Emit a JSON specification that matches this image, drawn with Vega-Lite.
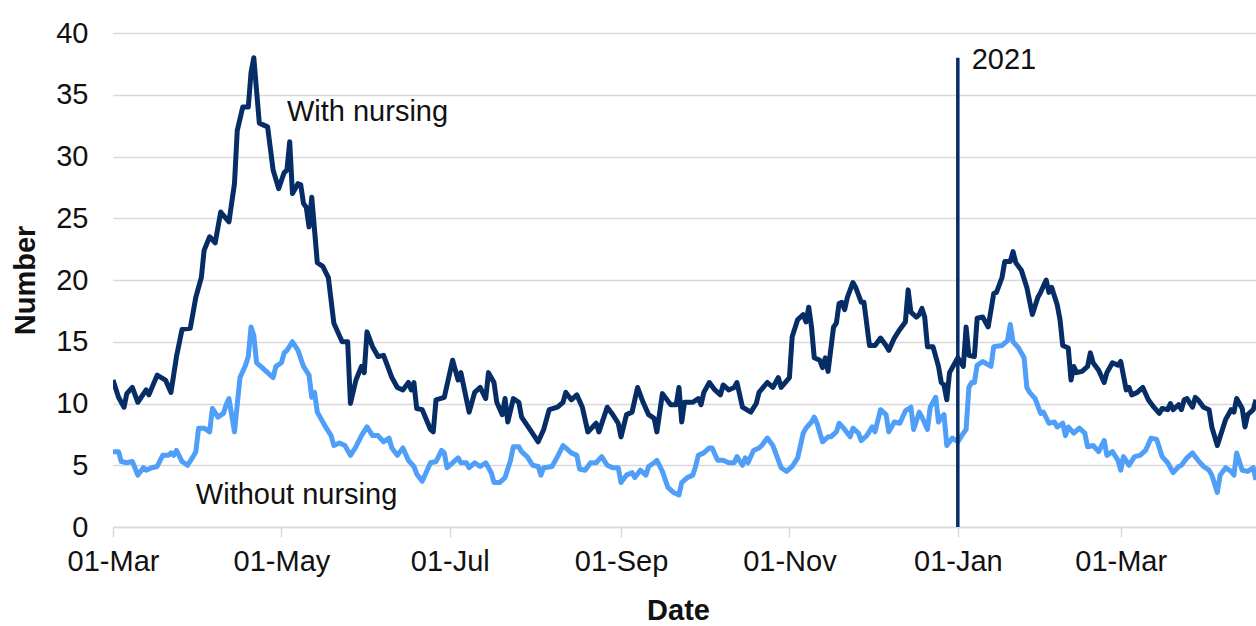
{
  "$schema": "https://vega.github.io/schema/vega-lite/v6.json",
  "width": 1143,
  "height": 494,
  "autosize": "none",
  "padding": {"left": 113, "top": 33, "right": 0, "bottom": 99},
  "background": "white",
  "config": {"view": {"stroke": null}, "font": "Liberation Sans"},
  "datasets": {
    "withNursing": [
      {"d":"2020-03-01","v":11.9},{"d":"2020-03-03","v":10.5},{"d":"2020-03-05","v":9.7},{"d":"2020-03-06","v":10.8},{"d":"2020-03-08","v":11.3},{"d":"2020-03-10","v":10.1},{"d":"2020-03-13","v":11.1},{"d":"2020-03-14","v":10.7},{"d":"2020-03-17","v":12.3},{"d":"2020-03-20","v":11.9},{"d":"2020-03-22","v":10.9},{"d":"2020-03-24","v":13.8},{"d":"2020-03-26","v":16.0},{"d":"2020-03-29","v":16.1},{"d":"2020-03-31","v":18.6},
      {"d":"2020-04-02","v":20.2},{"d":"2020-04-03","v":22.4},{"d":"2020-04-05","v":23.5},{"d":"2020-04-07","v":23.0},{"d":"2020-04-09","v":25.5},{"d":"2020-04-12","v":24.7},{"d":"2020-04-14","v":27.8},{"d":"2020-04-15","v":32.1},{"d":"2020-04-17","v":34.0},{"d":"2020-04-19","v":34.0},{"d":"2020-04-20","v":36.8},{"d":"2020-04-21","v":38.0},{"d":"2020-04-23","v":32.7},{"d":"2020-04-26","v":32.4},{"d":"2020-04-28","v":28.9},{"d":"2020-04-30","v":27.4},
      {"d":"2020-05-02","v":28.7},{"d":"2020-05-03","v":28.9},{"d":"2020-05-04","v":31.2},{"d":"2020-05-05","v":27.0},{"d":"2020-05-07","v":27.8},{"d":"2020-05-08","v":27.7},{"d":"2020-05-09","v":26.2},{"d":"2020-05-10","v":25.9},{"d":"2020-05-11","v":24.3},{"d":"2020-05-12","v":26.7},{"d":"2020-05-14","v":21.4},{"d":"2020-05-16","v":21.1},{"d":"2020-05-18","v":20.2},{"d":"2020-05-20","v":16.5},{"d":"2020-05-23","v":15.0},{"d":"2020-05-25","v":15.0},{"d":"2020-05-26","v":10.0},{"d":"2020-05-28","v":11.9},{"d":"2020-05-30","v":13.0},{"d":"2020-05-31","v":12.5},
      {"d":"2020-06-01","v":15.8},{"d":"2020-06-03","v":14.6},{"d":"2020-06-05","v":13.8},{"d":"2020-06-07","v":13.9},{"d":"2020-06-09","v":12.7},{"d":"2020-06-10","v":12.1},{"d":"2020-06-12","v":11.3},{"d":"2020-06-14","v":11.1},{"d":"2020-06-16","v":11.7},{"d":"2020-06-17","v":11.1},{"d":"2020-06-18","v":11.7},{"d":"2020-06-19","v":9.6},{"d":"2020-06-21","v":9.5},{"d":"2020-06-24","v":7.9},{"d":"2020-06-25","v":7.7},{"d":"2020-06-26","v":10.3},{"d":"2020-06-29","v":10.5},
      {"d":"2020-07-02","v":13.5},{"d":"2020-07-04","v":11.9},{"d":"2020-07-05","v":12.5},{"d":"2020-07-08","v":9.3},{"d":"2020-07-10","v":10.9},{"d":"2020-07-12","v":11.3},{"d":"2020-07-14","v":10.4},{"d":"2020-07-15","v":12.5},{"d":"2020-07-17","v":11.7},{"d":"2020-07-18","v":10.1},{"d":"2020-07-20","v":9.1},{"d":"2020-07-21","v":10.4},{"d":"2020-07-22","v":8.5},{"d":"2020-07-24","v":10.4},{"d":"2020-07-26","v":10.1},{"d":"2020-07-27","v":8.9},{"d":"2020-07-30","v":7.9},
      {"d":"2020-08-02","v":6.9},{"d":"2020-08-04","v":7.9},{"d":"2020-08-06","v":9.5},{"d":"2020-08-09","v":9.7},{"d":"2020-08-11","v":10.1},{"d":"2020-08-12","v":10.9},{"d":"2020-08-14","v":10.3},{"d":"2020-08-16","v":10.7},{"d":"2020-08-18","v":9.7},{"d":"2020-08-20","v":7.7},{"d":"2020-08-23","v":8.4},{"d":"2020-08-24","v":7.7},{"d":"2020-08-27","v":9.7},{"d":"2020-08-29","v":9.1},{"d":"2020-08-31","v":8.4},
      {"d":"2020-09-01","v":7.3},{"d":"2020-09-03","v":9.1},{"d":"2020-09-05","v":9.3},{"d":"2020-09-07","v":11.3},{"d":"2020-09-09","v":10.1},{"d":"2020-09-11","v":9.1},{"d":"2020-09-13","v":8.8},{"d":"2020-09-14","v":7.7},{"d":"2020-09-16","v":10.8},{"d":"2020-09-19","v":9.9},{"d":"2020-09-21","v":9.9},{"d":"2020-09-22","v":11.3},{"d":"2020-09-23","v":8.5},{"d":"2020-09-24","v":10.1},{"d":"2020-09-27","v":10.1},{"d":"2020-09-29","v":10.4},{"d":"2020-09-30","v":9.9},
      {"d":"2020-10-01","v":10.9},{"d":"2020-10-03","v":11.7},{"d":"2020-10-05","v":11.1},{"d":"2020-10-07","v":10.7},{"d":"2020-10-08","v":11.5},{"d":"2020-10-10","v":11.1},{"d":"2020-10-12","v":11.3},{"d":"2020-10-13","v":11.7},{"d":"2020-10-15","v":9.7},{"d":"2020-10-18","v":9.3},{"d":"2020-10-20","v":10.0},{"d":"2020-10-21","v":10.9},{"d":"2020-10-24","v":11.7},{"d":"2020-10-26","v":11.3},{"d":"2020-10-28","v":12.1},{"d":"2020-10-29","v":11.3},
      {"d":"2020-11-01","v":12.1},{"d":"2020-11-02","v":15.4},{"d":"2020-11-04","v":16.8},{"d":"2020-11-06","v":17.2},{"d":"2020-11-07","v":16.6},{"d":"2020-11-08","v":17.8},{"d":"2020-11-09","v":16.2},{"d":"2020-11-10","v":13.7},{"d":"2020-11-12","v":13.5},{"d":"2020-11-13","v":12.9},{"d":"2020-11-14","v":13.7},{"d":"2020-11-15","v":12.6},{"d":"2020-11-17","v":16.2},{"d":"2020-11-18","v":16.5},{"d":"2020-11-19","v":18.1},{"d":"2020-11-20","v":18.2},{"d":"2020-11-21","v":17.6},{"d":"2020-11-22","v":18.6},{"d":"2020-11-24","v":19.8},{"d":"2020-11-25","v":19.4},{"d":"2020-11-27","v":18.2},{"d":"2020-11-28","v":18.2},{"d":"2020-11-30","v":14.7},
      {"d":"2020-12-02","v":14.7},{"d":"2020-12-04","v":15.3},{"d":"2020-12-06","v":14.7},{"d":"2020-12-07","v":14.3},{"d":"2020-12-09","v":15.3},{"d":"2020-12-11","v":16.0},{"d":"2020-12-13","v":16.6},{"d":"2020-12-14","v":19.2},{"d":"2020-12-15","v":17.4},{"d":"2020-12-17","v":17.0},{"d":"2020-12-18","v":17.2},{"d":"2020-12-19","v":17.7},{"d":"2020-12-20","v":17.0},{"d":"2020-12-21","v":14.6},{"d":"2020-12-23","v":14.6},{"d":"2020-12-25","v":13.0},{"d":"2020-12-26","v":11.7},{"d":"2020-12-27","v":11.5},{"d":"2020-12-28","v":10.3},{"d":"2020-12-29","v":12.5},{"d":"2020-12-31","v":13.3},
      {"d":"2021-01-01","v":13.7},{"d":"2021-01-03","v":13.0},{"d":"2021-01-04","v":16.2},{"d":"2021-01-05","v":13.9},{"d":"2021-01-07","v":13.8},{"d":"2021-01-08","v":16.9},{"d":"2021-01-10","v":17.0},{"d":"2021-01-12","v":16.2},{"d":"2021-01-14","v":18.9},{"d":"2021-01-15","v":19.0},{"d":"2021-01-17","v":20.2},{"d":"2021-01-18","v":21.5},{"d":"2021-01-20","v":21.5},{"d":"2021-01-21","v":22.3},{"d":"2021-01-22","v":21.4},{"d":"2021-01-24","v":20.8},{"d":"2021-01-26","v":19.4},{"d":"2021-01-28","v":17.2},{"d":"2021-01-30","v":18.6},{"d":"2021-01-31","v":19.0},
      {"d":"2021-02-02","v":20.0},{"d":"2021-02-03","v":19.0},{"d":"2021-02-04","v":19.4},{"d":"2021-02-06","v":18.0},{"d":"2021-02-07","v":16.8},{"d":"2021-02-08","v":14.7},{"d":"2021-02-10","v":14.5},{"d":"2021-02-11","v":11.9},{"d":"2021-02-12","v":13.0},{"d":"2021-02-13","v":12.5},{"d":"2021-02-15","v":12.6},{"d":"2021-02-17","v":13.0},{"d":"2021-02-18","v":14.1},{"d":"2021-02-19","v":13.3},{"d":"2021-02-21","v":12.7},{"d":"2021-02-23","v":11.7},{"d":"2021-02-24","v":12.5},{"d":"2021-02-26","v":13.3},{"d":"2021-02-28","v":13.1},
      {"d":"2021-03-01","v":13.4},{"d":"2021-03-03","v":11.1},{"d":"2021-03-04","v":11.3},{"d":"2021-03-05","v":10.7},{"d":"2021-03-07","v":10.9},{"d":"2021-03-09","v":11.3},{"d":"2021-03-11","v":10.3},{"d":"2021-03-13","v":9.7},{"d":"2021-03-15","v":9.2},{"d":"2021-03-16","v":9.6},{"d":"2021-03-18","v":9.5},{"d":"2021-03-19","v":10.0},{"d":"2021-03-20","v":9.5},{"d":"2021-03-22","v":9.9},{"d":"2021-03-23","v":9.5},{"d":"2021-03-24","v":10.3},{"d":"2021-03-25","v":10.4},{"d":"2021-03-27","v":9.7},{"d":"2021-03-28","v":10.5},{"d":"2021-03-29","v":10.3},{"d":"2021-03-31","v":9.7},
      {"d":"2021-04-02","v":9.5},{"d":"2021-04-03","v":8.1},{"d":"2021-04-05","v":6.6},{"d":"2021-04-06","v":7.3},{"d":"2021-04-08","v":8.7},{"d":"2021-04-10","v":9.5},{"d":"2021-04-11","v":9.3},{"d":"2021-04-12","v":10.4},{"d":"2021-04-14","v":9.6},{"d":"2021-04-15","v":8.1},{"d":"2021-04-16","v":9.1},{"d":"2021-04-18","v":9.5},{"d":"2021-04-19","v":10.3}
    ],
    "withoutNursing": [
      {"d":"2020-03-01","v":6.1},{"d":"2020-03-03","v":6.1},{"d":"2020-03-04","v":5.3},{"d":"2020-03-06","v":5.2},{"d":"2020-03-08","v":5.3},{"d":"2020-03-10","v":4.2},{"d":"2020-03-12","v":4.8},{"d":"2020-03-13","v":4.6},{"d":"2020-03-15","v":4.8},{"d":"2020-03-17","v":4.9},{"d":"2020-03-19","v":5.8},{"d":"2020-03-21","v":5.8},{"d":"2020-03-22","v":6.0},{"d":"2020-03-23","v":5.8},{"d":"2020-03-24","v":6.2},{"d":"2020-03-26","v":5.3},{"d":"2020-03-28","v":5.0},{"d":"2020-03-30","v":5.7},{"d":"2020-03-31","v":6.1},
      {"d":"2020-04-01","v":8.0},{"d":"2020-04-03","v":8.0},{"d":"2020-04-05","v":7.7},{"d":"2020-04-06","v":9.6},{"d":"2020-04-08","v":8.9},{"d":"2020-04-10","v":9.2},{"d":"2020-04-11","v":9.9},{"d":"2020-04-12","v":10.4},{"d":"2020-04-14","v":7.7},{"d":"2020-04-15","v":9.9},{"d":"2020-04-16","v":12.1},{"d":"2020-04-18","v":13.1},{"d":"2020-04-19","v":13.8},{"d":"2020-04-20","v":16.2},{"d":"2020-04-21","v":15.5},{"d":"2020-04-22","v":13.3},{"d":"2020-04-24","v":12.9},{"d":"2020-04-28","v":12.1},{"d":"2020-04-29","v":13.0},
      {"d":"2020-05-01","v":13.3},{"d":"2020-05-02","v":14.1},{"d":"2020-05-03","v":14.3},{"d":"2020-05-05","v":15.0},{"d":"2020-05-07","v":14.3},{"d":"2020-05-09","v":13.0},{"d":"2020-05-11","v":12.3},{"d":"2020-05-12","v":10.5},{"d":"2020-05-13","v":10.9},{"d":"2020-05-14","v":9.3},{"d":"2020-05-17","v":8.1},{"d":"2020-05-19","v":7.4},{"d":"2020-05-20","v":6.6},{"d":"2020-05-22","v":6.8},{"d":"2020-05-24","v":6.6},{"d":"2020-05-26","v":5.8},{"d":"2020-05-28","v":6.5},{"d":"2020-05-30","v":7.4},
      {"d":"2020-06-01","v":8.1},{"d":"2020-06-03","v":7.4},{"d":"2020-06-05","v":7.4},{"d":"2020-06-07","v":6.9},{"d":"2020-06-09","v":7.2},{"d":"2020-06-10","v":6.4},{"d":"2020-06-12","v":5.8},{"d":"2020-06-14","v":6.4},{"d":"2020-06-16","v":5.4},{"d":"2020-06-18","v":4.9},{"d":"2020-06-19","v":4.3},{"d":"2020-06-21","v":3.7},{"d":"2020-06-24","v":5.2},{"d":"2020-06-26","v":5.3},{"d":"2020-06-28","v":6.2},{"d":"2020-06-29","v":6.0},{"d":"2020-06-30","v":4.8},
      {"d":"2020-07-02","v":5.2},{"d":"2020-07-04","v":5.6},{"d":"2020-07-05","v":5.2},{"d":"2020-07-07","v":5.2},{"d":"2020-07-08","v":4.8},{"d":"2020-07-10","v":5.2},{"d":"2020-07-12","v":4.9},{"d":"2020-07-14","v":5.2},{"d":"2020-07-16","v":4.4},{"d":"2020-07-17","v":3.6},{"d":"2020-07-19","v":3.6},{"d":"2020-07-21","v":4.0},{"d":"2020-07-23","v":5.4},{"d":"2020-07-24","v":6.5},{"d":"2020-07-26","v":6.5},{"d":"2020-07-27","v":6.1},{"d":"2020-07-29","v":5.7},{"d":"2020-07-31","v":5.0},
      {"d":"2020-08-02","v":4.9},{"d":"2020-08-03","v":4.2},{"d":"2020-08-04","v":4.8},{"d":"2020-08-07","v":4.9},{"d":"2020-08-09","v":5.7},{"d":"2020-08-11","v":6.6},{"d":"2020-08-12","v":6.4},{"d":"2020-08-14","v":6.0},{"d":"2020-08-16","v":5.8},{"d":"2020-08-17","v":4.7},{"d":"2020-08-19","v":4.6},{"d":"2020-08-21","v":5.2},{"d":"2020-08-23","v":5.2},{"d":"2020-08-25","v":5.7},{"d":"2020-08-27","v":5.0},{"d":"2020-08-29","v":4.8},{"d":"2020-08-31","v":4.8},
      {"d":"2020-09-01","v":3.6},{"d":"2020-09-03","v":4.2},{"d":"2020-09-05","v":4.4},{"d":"2020-09-06","v":4.0},{"d":"2020-09-08","v":4.6},{"d":"2020-09-10","v":4.2},{"d":"2020-09-11","v":4.9},{"d":"2020-09-13","v":5.2},{"d":"2020-09-14","v":5.4},{"d":"2020-09-16","v":4.5},{"d":"2020-09-18","v":3.2},{"d":"2020-09-20","v":2.8},{"d":"2020-09-22","v":2.6},{"d":"2020-09-23","v":3.6},{"d":"2020-09-25","v":4.0},{"d":"2020-09-27","v":4.2},{"d":"2020-09-28","v":4.9},{"d":"2020-09-29","v":5.8},
      {"d":"2020-10-01","v":6.0},{"d":"2020-10-03","v":6.4},{"d":"2020-10-04","v":6.4},{"d":"2020-10-06","v":5.4},{"d":"2020-10-08","v":5.4},{"d":"2020-10-10","v":5.2},{"d":"2020-10-12","v":5.2},{"d":"2020-10-13","v":5.7},{"d":"2020-10-15","v":5.0},{"d":"2020-10-16","v":5.6},{"d":"2020-10-17","v":5.2},{"d":"2020-10-19","v":6.2},{"d":"2020-10-21","v":6.4},{"d":"2020-10-22","v":6.6},{"d":"2020-10-24","v":7.2},{"d":"2020-10-26","v":6.6},{"d":"2020-10-28","v":5.4},{"d":"2020-10-29","v":4.8},{"d":"2020-10-31","v":4.5},
      {"d":"2020-11-02","v":4.9},{"d":"2020-11-04","v":5.6},{"d":"2020-11-06","v":7.6},{"d":"2020-11-07","v":8.0},{"d":"2020-11-09","v":8.5},{"d":"2020-11-10","v":8.9},{"d":"2020-11-11","v":8.4},{"d":"2020-11-13","v":6.9},{"d":"2020-11-15","v":7.3},{"d":"2020-11-16","v":7.3},{"d":"2020-11-18","v":7.7},{"d":"2020-11-19","v":8.4},{"d":"2020-11-21","v":7.9},{"d":"2020-11-23","v":7.3},{"d":"2020-11-24","v":8.0},{"d":"2020-11-26","v":7.6},{"d":"2020-11-27","v":7.0},{"d":"2020-11-29","v":7.4},
      {"d":"2020-12-01","v":8.1},{"d":"2020-12-02","v":7.7},{"d":"2020-12-04","v":9.5},{"d":"2020-12-06","v":9.1},{"d":"2020-12-07","v":7.7},{"d":"2020-12-09","v":8.5},{"d":"2020-12-11","v":8.4},{"d":"2020-12-13","v":9.4},{"d":"2020-12-15","v":9.7},{"d":"2020-12-16","v":7.9},{"d":"2020-12-18","v":9.3},{"d":"2020-12-19","v":8.9},{"d":"2020-12-21","v":7.9},{"d":"2020-12-22","v":9.7},{"d":"2020-12-24","v":10.5},{"d":"2020-12-25","v":8.5},{"d":"2020-12-26","v":8.9},{"d":"2020-12-27","v":9.1},{"d":"2020-12-28","v":6.6},{"d":"2020-12-30","v":7.2},
      {"d":"2021-01-01","v":6.9},{"d":"2021-01-03","v":7.6},{"d":"2021-01-04","v":7.9},{"d":"2021-01-05","v":11.3},{"d":"2021-01-06","v":11.7},{"d":"2021-01-07","v":11.7},{"d":"2021-01-08","v":13.1},{"d":"2021-01-10","v":13.4},{"d":"2021-01-13","v":13.0},{"d":"2021-01-14","v":14.6},{"d":"2021-01-17","v":14.7},{"d":"2021-01-19","v":15.1},{"d":"2021-01-20","v":16.4},{"d":"2021-01-21","v":15.0},{"d":"2021-01-23","v":14.5},{"d":"2021-01-25","v":13.7},{"d":"2021-01-26","v":11.3},{"d":"2021-01-27","v":10.9},{"d":"2021-01-29","v":10.4},{"d":"2021-01-31","v":9.2},
      {"d":"2021-02-01","v":9.3},{"d":"2021-02-03","v":8.4},{"d":"2021-02-05","v":8.5},{"d":"2021-02-06","v":8.1},{"d":"2021-02-08","v":8.4},{"d":"2021-02-09","v":7.4},{"d":"2021-02-10","v":8.1},{"d":"2021-02-12","v":7.6},{"d":"2021-02-14","v":8.0},{"d":"2021-02-16","v":7.6},{"d":"2021-02-17","v":6.5},{"d":"2021-02-19","v":6.6},{"d":"2021-02-21","v":6.1},{"d":"2021-02-23","v":7.0},{"d":"2021-02-24","v":5.8},{"d":"2021-02-26","v":6.1},{"d":"2021-02-28","v":5.4},
      {"d":"2021-03-01","v":4.6},{"d":"2021-03-02","v":5.7},{"d":"2021-03-04","v":5.0},{"d":"2021-03-06","v":5.7},{"d":"2021-03-08","v":5.8},{"d":"2021-03-10","v":6.2},{"d":"2021-03-12","v":7.2},{"d":"2021-03-14","v":7.1},{"d":"2021-03-16","v":5.7},{"d":"2021-03-18","v":5.2},{"d":"2021-03-20","v":4.4},{"d":"2021-03-22","v":4.9},{"d":"2021-03-23","v":5.0},{"d":"2021-03-25","v":5.6},{"d":"2021-03-27","v":6.0},{"d":"2021-03-29","v":5.4},{"d":"2021-03-31","v":4.9},
      {"d":"2021-04-02","v":4.6},{"d":"2021-04-03","v":4.2},{"d":"2021-04-05","v":2.8},{"d":"2021-04-06","v":4.2},{"d":"2021-04-08","v":4.8},{"d":"2021-04-10","v":4.5},{"d":"2021-04-11","v":4.2},{"d":"2021-04-12","v":6.0},{"d":"2021-04-14","v":4.6},{"d":"2021-04-16","v":4.5},{"d":"2021-04-18","v":4.8},{"d":"2021-04-19","v":3.8}
    ],
    "yearMark": [{"d":"2021-01-01","v":0,"v2":38}],
    "labels": [
      {"d":"2020-05-03","v":33.6,"t":"With nursing"},
      {"d":"2020-03-31","v":2.6,"t":"Without nursing"},
      {"d":"2021-01-06","v":37.8,"t":"2021"}
    ]
  },
  "layer": [
    {
      "data": {"name": "withoutNursing"},
      "mark": {"type": "line", "color": "#4f9ef7", "strokeWidth": 5, "clip": true, "strokeJoin": "round"},
      "encoding": {
        "x": {
          "field": "d", "type": "temporal",
          "scale": {"type": "utc", "domain": [{"year":2020,"month":3,"date":1,"utc":true},{"year":2021,"month":4,"date":19,"utc":true}]},
          "axis": {
            "title": "Date",
            "values": [
              {"year":2020,"month":3,"date":1,"utc":true},{"year":2020,"month":5,"date":1,"utc":true},{"year":2020,"month":7,"date":1,"utc":true},{"year":2020,"month":9,"date":1,"utc":true},{"year":2020,"month":11,"date":1,"utc":true},{"year":2021,"month":1,"date":1,"utc":true},{"year":2021,"month":3,"date":1,"utc":true}
            ],
            "format": "%d-%b",
            "grid": false,
            "domainColor": "#d9d9d9", "domainWidth": 1.5,
            "tickColor": "#d9d9d9", "tickSize": 10, "tickWidth": 1.5,
            "labelFontSize": 29, "labelColor": "#111111", "labelPadding": 10,
            "labelFlush": false, "labelOverlap": false,
            "titleFontSize": 29, "titleFontWeight": "bold", "titleColor": "#111111",
            "titleX": 565, "titleY": 83, "titleAlign": "center", "titleBaseline": "middle"
          }
        },
        "y": {
          "field": "v", "type": "quantitative",
          "scale": {"domain": [0, 40], "nice": false},
          "axis": {
            "title": "Number",
            "values": [0,5,10,15,20,25,30,35,40],
            "grid": true, "gridColor": "#d9d9d9", "gridWidth": 1.3,
            "domain": false, "ticks": false,
            "labelFontSize": 29, "labelColor": "#111111", "labelPadding": 25,
            "titleFontSize": 29, "titleFontWeight": "bold", "titleColor": "#111111",
            "titleAngle": -90, "titleX": -88, "titleY": 247, "titleAlign": "center", "titleBaseline": "middle"
          }
        }
      }
    },
    {
      "data": {"name": "withNursing"},
      "mark": {"type": "line", "color": "#062d66", "strokeWidth": 5, "clip": true, "strokeJoin": "round"},
      "encoding": {
        "x": {"field": "d", "type": "temporal"},
        "y": {"field": "v", "type": "quantitative"}
      }
    },
    {
      "data": {"name": "yearMark"},
      "mark": {"type": "rule", "color": "#062d66", "strokeWidth": 3.5},
      "encoding": {
        "x": {"field": "d", "type": "temporal"},
        "y": {"field": "v", "type": "quantitative"},
        "y2": {"field": "v2"}
      }
    },
    {
      "data": {"name": "labels"},
      "mark": {"type": "text", "align": "left", "baseline": "middle", "fontSize": 29, "color": "#111111"},
      "encoding": {
        "x": {"field": "d", "type": "temporal"},
        "y": {"field": "v", "type": "quantitative"},
        "text": {"field": "t"}
      }
    }
  ]
}
